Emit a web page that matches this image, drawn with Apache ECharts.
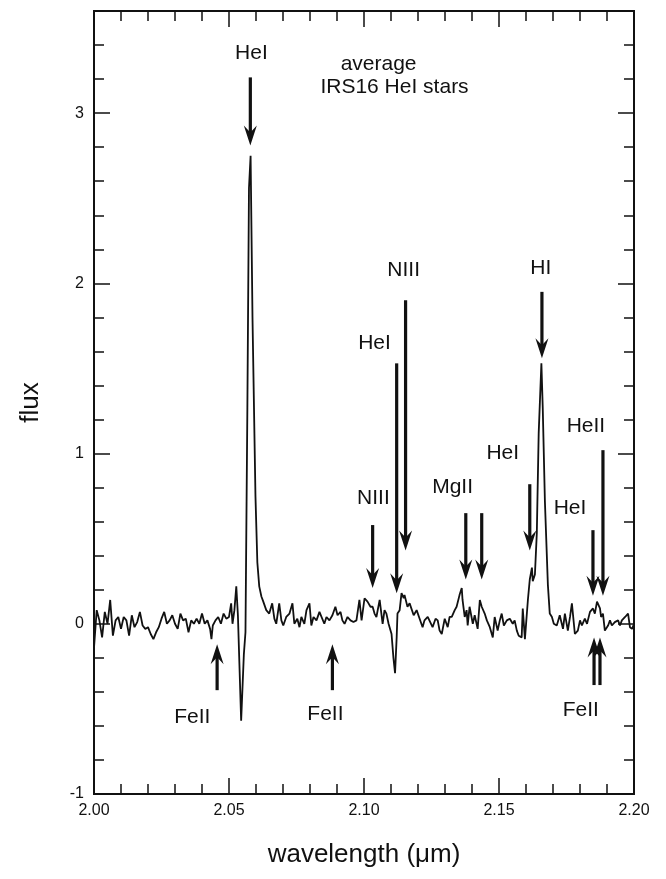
<!DOCTYPE html>
<html>
<head>
<meta charset="utf-8">
<script src="https://cdn.jsdelivr.net/npm/echarts@6/dist/echarts.min.js"></script>
<style>
html,body{margin:0;padding:0;background:#fff;}
#chart{width:666px;height:879px;}
</style>
</head>
<body>
<div id="chart"></div>
<script>
// ---- spectrum data (wavelength in micron, flux) ----
const wavelength = [
2.000,2.001,2.002,2.003,2.004,2.005,2.006,2.007,2.008,2.009,
2.010,2.011,2.012,2.013,2.014,2.015,2.016,2.017,2.018,2.019,
2.020,2.021,2.022,2.023,2.024,2.025,2.026,2.027,2.028,2.029,
2.030,2.031,2.032,2.033,2.034,2.035,2.036,2.037,2.038,2.039,
2.040,2.041,2.042,2.043,2.0435,2.044,2.045,2.046,2.047,2.048,
2.049,2.050,2.0508,2.0513,2.052,2.0527,2.0533,2.0545,2.0555,2.0561,
2.0568,2.0574,2.0580,2.0587,2.0598,2.0605,2.0612,2.0620,2.0627,2.0638,
2.0649,2.0660,2.0668,2.0675,2.0686,2.0694,2.0701,2.0712,2.0724,2.0735,
2.0742,2.0753,2.0761,2.0768,2.0779,2.0787,2.0798,2.0805,2.0813,2.0824,
2.0835,2.0842,2.0853,2.0861,2.0872,2.0883,2.0894,2.0902,2.0913,2.0920,
2.0928,2.0939,2.0950,2.0961,2.0972,2.0983,2.0991,2.1002,2.1013,2.1024,
2.1032,2.1039,2.1046,2.1058,2.1069,2.1076,2.1083,2.1091,2.1102,2.1109,
2.1115,2.1121,2.1124,2.1132,2.1139,2.1147,2.1150,2.1161,2.1169,2.1176,
2.1184,2.1195,2.1206,2.1217,2.1224,2.1236,2.1243,2.1254,2.1265,2.1273,
2.1280,2.1288,2.1299,2.1310,2.1317,2.1325,2.1336,2.1343,2.1354,2.1362,
2.1365,2.1373,2.1380,2.1384,2.1391,2.1403,2.1410,2.1421,2.1429,2.1436,
2.1440,2.1447,2.1455,2.1466,2.1477,2.1484,2.1495,2.1503,2.1510,2.1518,
2.1529,2.1540,2.1551,2.1558,2.1566,2.1573,2.1584,2.1588,2.1596,2.1607,
2.1614,2.1622,2.1625,2.1633,2.1640,2.1647,2.1657,2.1662,2.1670,2.1681,
2.1688,2.1696,2.1703,2.1714,2.1725,2.1737,2.1744,2.1755,2.1763,2.1770,
2.1781,2.1792,2.1800,2.1807,2.1818,2.1826,2.1837,2.1848,2.1855,2.1863,
2.1874,2.1878,2.1885,2.1892,2.1904,2.1911,2.1918,2.1929,2.1941,2.1948,
2.1955,2.1967,2.1978,2.1985,2.1993,2.2000
];
const flux = [
-0.14,0.08,0.02,-0.08,0.07,0.00,0.14,-0.07,0.02,0.04,
-0.03,0.04,0.02,-0.07,0.05,-0.02,0.01,0.07,-0.01,-0.03,
-0.02,-0.06,-0.09,-0.05,-0.02,0.03,0.07,0.00,0.02,0.05,
0.00,-0.03,0.06,0.02,0.03,-0.05,0.02,0.00,0.03,0.00,
0.06,0.00,0.02,-0.03,-0.09,-0.01,0.02,0.04,0.00,0.06,
0.03,0.04,0.12,0.00,0.08,0.22,0.05,-0.57,-0.18,-0.05,
1.26,2.56,2.75,1.80,0.75,0.36,0.22,0.16,0.13,0.08,
0.06,0.12,0.03,0.00,0.12,0.02,-0.01,0.04,0.06,0.12,
0.00,0.03,-0.02,0.04,0.00,0.08,0.12,-0.01,0.04,0.02,
0.07,0.06,0.00,0.04,0.02,0.05,0.10,0.05,0.07,0.02,
0.00,0.04,0.02,0.01,0.02,0.14,0.02,0.15,0.13,0.10,
0.10,0.06,0.04,0.14,0.00,0.08,0.06,0.00,-0.06,-0.20,
-0.29,-0.08,0.06,0.08,0.18,0.15,0.17,0.10,0.12,0.11,
0.05,0.08,0.03,-0.02,0.02,0.04,0.04,-0.02,0.03,0.02,
-0.04,-0.06,0.03,-0.02,0.04,0.04,0.08,0.10,0.17,0.21,
0.14,0.04,0.08,-0.01,0.10,0.00,0.05,-0.03,0.14,0.10,
0.09,0.06,0.02,-0.02,-0.08,0.04,-0.04,0.02,0.06,-0.01,
0.02,0.03,0.00,0.02,-0.04,-0.07,-0.08,0.09,-0.09,0.14,
0.26,0.33,0.25,0.29,0.53,1.12,1.53,1.27,0.72,0.23,
0.06,0.04,0.00,-0.01,0.05,-0.03,0.06,-0.04,0.04,0.12,
-0.06,-0.04,0.02,-0.01,0.03,0.00,0.07,0.09,0.06,0.13,
0.09,0.04,0.06,-0.04,-0.01,0.02,-0.01,0.01,0.02,-0.01,
0.02,0.04,0.06,-0.02,-0.03,0.00
];

// ---- axis ticks ----
const xTickValues = [2.00, 2.05, 2.10, 2.15, 2.20];
const yTickValues = [-1, 0, 1, 2, 3];

// ---- line identification arrows (wavelength, start flux, tip flux) ----
const arrowX    = [2.0579, 2.1154, 2.1121, 2.1032, 2.1377, 2.1436, 2.1614, 2.1659, 2.1848, 2.1885, 2.0456, 2.0883, 2.1852, 2.1874];
const arrowFrom = [3.21,   1.90,   1.53,   0.58,   0.65,   0.65,   0.82,   1.95,   0.55,   1.02,   -0.39,  -0.39,  -0.36,  -0.36];
const arrowTo   = [2.81,   0.43,   0.18,   0.21,   0.26,   0.26,   0.43,   1.56,   0.165,  0.165,  -0.12,  -0.12,  -0.08,  -0.08];

// ---- annotation texts ----
const labelText = ['HeI', 'average', 'IRS16 HeI stars', 'NIII', 'HeI', 'NIII', 'MgII', 'HeI', 'HI', 'HeII', 'HeI', 'FeII', 'FeII', 'FeII'];
const labelX    = [2.0583, 2.1054, 2.1113, 2.1147, 2.1039, 2.1035, 2.1328, 2.1514, 2.1655, 2.1822, 2.1763, 2.0364, 2.0857, 2.1803];
const labelY    = [3.35,   3.29,   3.15,   2.08,   1.65,   0.74,   0.80,   1.00,   2.09,   1.16,   0.68,   -0.55,  -0.53,  -0.51];

const FONT = '"Liberation Sans", Arial, Helvetica, sans-serif';
const INK = '#111';

const chart = echarts.init(document.getElementById('chart'), null, {renderer: 'canvas'});

const lineData = wavelength.map((w, i) => [w, flux[i]]);
const arrowData = arrowX.map((x, i) => [x, arrowFrom[i], arrowTo[i]]);
const labelData = labelX.map((x, i) => [x, labelY[i]]);

const xMin = xTickValues[0], xMax = xTickValues[xTickValues.length - 1];
const xInterval = xTickValues[1] - xTickValues[0];
const yMin = yTickValues[0], yMax = 3.6;

function baseX(pos, showLabel) {
  return {
    type: 'value', position: pos, min: xMin, max: xMax, interval: 0.05,
    axisLine: {show: true, onZero: false, lineStyle: {color: INK, width: 2}},
    axisTick: {show: true, inside: true, length: 16, lineStyle: {color: INK, width: 1.5}},
    minorTick: {show: true, splitNumber: 5, length: 10, lineStyle: {color: INK, width: 1.5}},
    splitLine: {show: false},
    axisLabel: showLabel ? {
      show: true, margin: 9, color: INK, fontSize: 16, fontFamily: FONT,
      formatter: v => Number(v).toFixed(2)
    } : {show: false},
    name: showLabel ? 'wavelength (\u03bcm)' : '',
    nameLocation: 'middle', nameGap: 48,
    nameTextStyle: {color: INK, fontSize: 26, fontFamily: FONT}
  };
}
function baseY(pos, interval, tickLen, showLabel) {
  return {
    type: 'value', position: pos, min: yMin, max: yMax, interval: interval,
    axisLine: {show: true, onZero: false, lineStyle: {color: INK, width: 2}},
    axisTick: {show: true, inside: true, length: tickLen, lineStyle: {color: INK, width: 1.5}},
    splitLine: {show: false},
    axisLabel: showLabel ? {
      show: true, margin: 10, color: INK, fontSize: 16, fontFamily: FONT,
      showMaxLabel: false,
      formatter: v => (yTickValues.indexOf(Math.round(v * 1000) / 1000) >= 0 ? String(Math.round(v)) : '')
    } : {show: false},
    name: showLabel ? 'flux' : '',
    nameLocation: 'middle', nameGap: 50, nameRotate: 90,
    nameTextStyle: {color: INK, fontSize: 26, fontFamily: FONT}
  };
}

const option = {
  animation: false,
  backgroundColor: '#fff',
  grid: {left: 94, right: 32, top: 11, bottom: 85, containLabel: false},
  xAxis: [baseX('bottom', true), baseX('top', false)],
  yAxis: [
    baseY('left', 1, 16, true),
    baseY('left', 0.2, 10, false),
    baseY('right', 1, 16, false),
    baseY('right', 0.2, 10, false)
  ],
  series: [
    {
      type: 'line', data: lineData, xAxisIndex: 0, yAxisIndex: 0,
      showSymbol: false, symbol: 'none', smooth: false,
      lineStyle: {color: INK, width: 1.8}, z: 3
    },
    {
      type: 'custom', data: arrowData, xAxisIndex: 0, yAxisIndex: 0,
      encode: {x: 0, y: [1, 2]}, z: 4,
      renderItem: function (params, api) {
        const x = api.value(0);
        const p1 = api.coord([x, api.value(1)]);
        const p2 = api.coord([x, api.value(2)]);
        const dir = p2[1] > p1[1] ? 1 : -1;
        const px = p2[0];
        return {
          type: 'group',
          children: [
            {type: 'line', shape: {x1: px, y1: p1[1], x2: px, y2: p2[1] - dir * 12},
             style: {stroke: INK, lineWidth: 3.2}},
            {type: 'polygon', shape: {points: [
              [px, p2[1]], [px - 6.5, p2[1] - dir * 20], [px, p2[1] - dir * 13], [px + 6.5, p2[1] - dir * 20]
            ]}, style: {fill: INK}}
          ]
        };
      }
    },
    {
      type: 'custom', data: labelData, xAxisIndex: 0, yAxisIndex: 0,
      encode: {x: 0, y: 1}, z: 5,
      renderItem: function (params, api) {
        const p = api.coord([api.value(0), api.value(1)]);
        return {
          type: 'text', x: p[0], y: p[1],
          style: {text: labelText[params.dataIndex], fill: INK, fontSize: 21, fontFamily: FONT,
                  align: 'center', verticalAlign: 'middle'}
        };
      }
    }
  ]
};
chart.setOption(option);
</script>
</body>
</html>
